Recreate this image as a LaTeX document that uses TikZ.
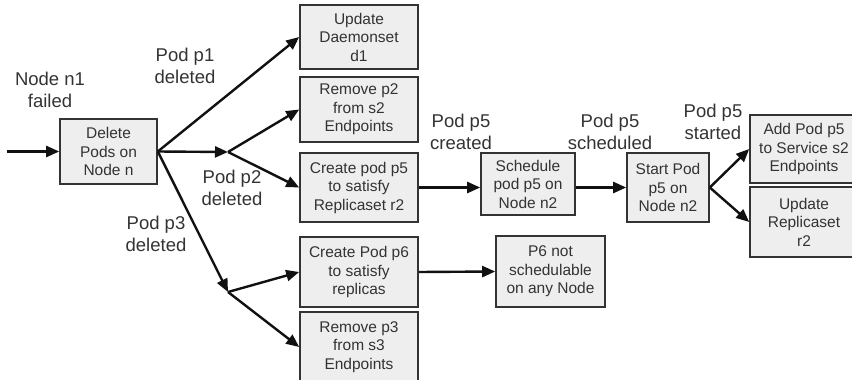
\documentclass[tikz,border=0pt]{standalone}
\usepackage{fontspec}
\setmainfont{Liberation Sans}
\usetikzlibrary{arrows.meta,calc}

\definecolor{boxfill}{HTML}{EEEEEE}
\definecolor{boxline}{HTML}{333333}
\definecolor{txt}{HTML}{333333}
\definecolor{wire}{HTML}{111111}

\newcommand{\boxfont}{\fontsize{15.5}{18.5}\selectfont}
\newcommand{\lblfont}{\fontsize{18.5}{22}\selectfont}

\tikzset{
  stepbox/.style={draw=boxline, fill=boxfill, line width=1.6pt, inner sep=0pt,
    align=center, font=\boxfont, text=txt},
  lbl/.style={align=center, font=\lblfont, text=txt, inner sep=0pt},
  conn/.style={draw=wire, line width=2.4pt,
    -{Triangle[length=13pt,width=11pt]}, shorten >=0pt},
}

\begin{document}
\begin{tikzpicture}[x=1pt,y=-1pt]
  \useasboundingbox (0,0) rectangle (852,380);

  % event boxes
  \node[stepbox, minimum width=97pt, minimum height=65pt] (del) at (108.5,151.5) {Delete\\Pods on\\Node n};
  \node[stepbox, minimum width=118pt, minimum height=64pt] (d1) at (359,37) {Update\\Daemonset\\d1};
  \node[stepbox, minimum width=118pt, minimum height=65pt] (rm2) at (359,109.5) {Remove p2\\from s2\\Endpoints};
  \node[stepbox, minimum width=118pt, minimum height=69pt] (cp5) at (359,187.5) {Create pod p5\\to satisfy\\Replicaset r2};
  \node[stepbox, minimum width=118pt, minimum height=70pt] (cp6) at (359,272) {Create Pod p6\\to satisfy\\replicas};
  \node[stepbox, minimum width=118pt, minimum height=70pt] (rm3) at (359,347) {Remove p3\\from s3\\Endpoints};
  \node[stepbox, minimum width=94pt, minimum height=62pt] (sch) at (528,184) {Schedule\\pod p5 on\\Node n2};
  \node[stepbox, minimum width=82pt, minimum height=69pt] (start) at (668,187.5) {Start Pod\\p5 on\\Node n2};
  \node[stepbox, minimum width=108pt, minimum height=68pt] (add) at (804,149) {Add Pod p5\\to Service s2\\Endpoints};
  \node[stepbox, minimum width=108pt, minimum height=70pt] (upd) at (804,222) {Update\\Replicaset\\r2};
  \node[stepbox, minimum width=109pt, minimum height=71pt] (p6) at (550.5,271.5) {P6 not\\schedulable\\on any Node};

  % branch points and free end
  \coordinate (src) at (7,151.5);
  \coordinate (j2) at (228,152);
  \coordinate (j3) at (228,292);

  % connectors
  \draw[conn] (src) -- (del.west);
  \draw[conn] (del.east) -- (d1.west);
  \draw[conn] (del.east) -- (j2);
  \draw[conn] (j2) -- (rm2.west);
  \draw[conn] (j2) -- (cp5.west);
  \draw[conn] (del.east) -- (j3);
  \draw[conn] (j3) -- (cp6.west);
  \draw[conn] (j3) -- (rm3.west);
  \draw[conn] (cp5.east) -- (cp5.east -| sch.west);
  \draw[conn] (cp5.east -| sch.east) -- (start.west);
  \draw[conn] (start.east) -- (add.west);
  \draw[conn] (start.east) -- (upd.west);
  \draw[conn] (cp6.east) -- (p6.west);

  % event labels
  \node[lbl] (l1) at (50,89.5) {Node n1\\failed};
  \node[lbl] (l2) at (185,66) {Pod p1\\deleted};
  \node[lbl] (l3) at (232,188) {Pod p2\\deleted};
  \node[lbl] (l4) at (156,234) {Pod p3\\deleted};
  \node[lbl] (l5) at (461,132) {Pod p5\\created};
  \node[lbl] (l6) at (610,132) {Pod p5\\scheduled};
  \node[lbl] (l7) at (713,122) {Pod p5\\started};
\end{tikzpicture}
\end{document}
